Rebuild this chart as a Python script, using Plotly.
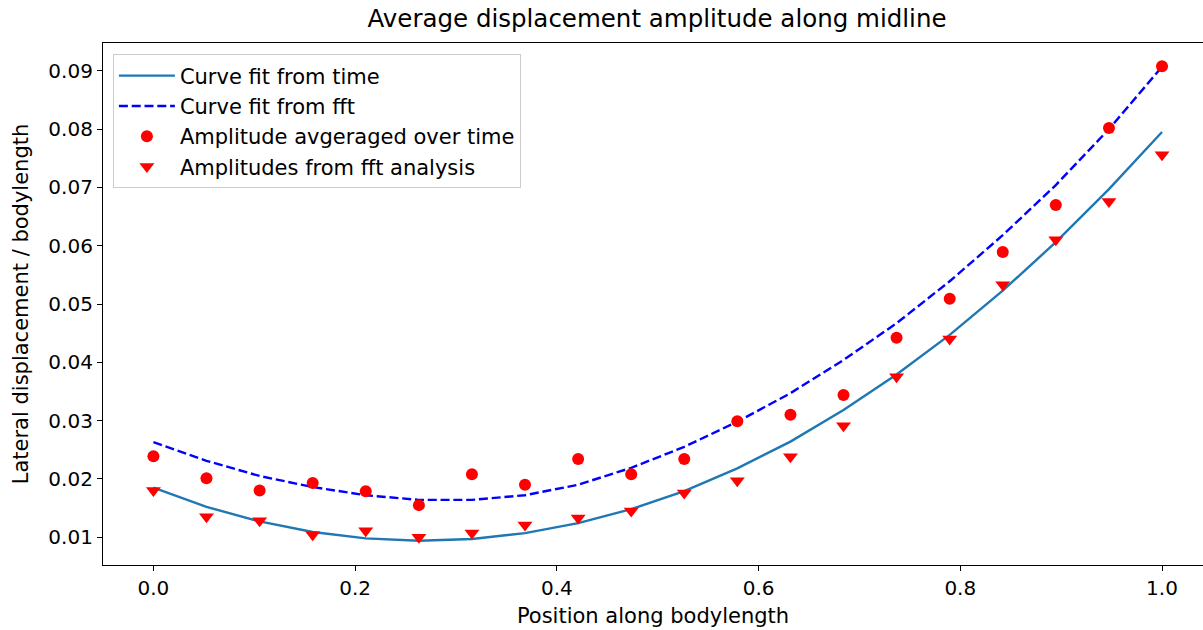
import plotly.graph_objects as go

# Sample positions along the body (20 equally spaced stations, 0 → 1)
position = [0.0, 0.0526, 0.1053, 0.1579, 0.2105, 0.2632, 0.3158, 0.3684, 0.4211, 0.4737,
            0.5263, 0.5789, 0.6316, 0.6842, 0.7368, 0.7895, 0.8421, 0.8947, 0.9474, 1.0]

# Amplitude averaged over time (circles)
amp_time = [0.0239, 0.0201, 0.0180, 0.0193, 0.0179, 0.0155, 0.0208, 0.0190, 0.0234, 0.0208,
            0.0234, 0.0299, 0.0310, 0.0344, 0.0442, 0.0509, 0.0589, 0.0670, 0.0802, 0.0908]

# Amplitudes from fft analysis (triangles)
amp_fft = [0.0180, 0.0135, 0.0128, 0.0104, 0.0111, 0.0100, 0.0107, 0.0121, 0.0133, 0.0145,
           0.0176, 0.0197, 0.0238, 0.0291, 0.0375, 0.0440, 0.0533, 0.0610, 0.0676, 0.0756]

# Fitted curves evaluated at the same stations
fit_time = [0.0185, 0.0152, 0.0127, 0.0109, 0.0098, 0.0094, 0.0097, 0.0107, 0.0124, 0.0148,
            0.0179, 0.0218, 0.0264, 0.0318, 0.0379, 0.0447, 0.0523, 0.0606, 0.0697, 0.0795]
fit_fft = [0.0263, 0.0231, 0.0205, 0.0186, 0.0172, 0.0164, 0.0164, 0.0172, 0.0190, 0.0219,
           0.0255, 0.0298, 0.0347, 0.0404, 0.0467, 0.0539, 0.0618, 0.0704, 0.0800, 0.0907]

y_ticks = [0.01, 0.02, 0.03, 0.04, 0.05, 0.06, 0.07, 0.08, 0.09]
x_ticks = [0.0, 0.2, 0.4, 0.6, 0.8, 1.0]

FONT = "DejaVu Sans"
TXT = 21
TICK = 20

fig = go.Figure()
fig.add_trace(go.Scatter(x=position, y=fit_time, mode="lines", name="Curve fit from time",
                         legendgroup="a",
                         line=dict(color="#1f77b4", width=2.4)))
fig.add_trace(go.Scatter(x=position, y=fit_fft, mode="lines", name="Curve fit from fft",
                         legendgroup="b",
                         line=dict(color="#0000ff", width=2.4, dash="9px,3.8px")))
fig.add_trace(go.Scatter(x=position, y=amp_time, mode="markers", name="Amplitude avgeraged over time",
                         legendgroup="c",
                         marker=dict(symbol="circle", color="#ff0000", size=12, line=dict(width=0))))
fig.add_trace(go.Scatter(x=position, y=amp_fft, mode="markers", name="Amplitudes from fft analysis",
                         legendgroup="d",
                         marker=dict(symbol="triangle-down", color="#ff0000", size=13, line=dict(width=0))))

fig.update_layout(
    width=1203, height=630,
    margin=dict(l=103, r=0, t=43, b=65),
    paper_bgcolor="white", plot_bgcolor="white",
    font=dict(family=FONT, size=TXT, color="black"),
    title=dict(text="Average displacement amplitude along midline",
               x=657 / 1203, xanchor="center", xref="container",
               y=1 - 18 / 630, yanchor="middle", yref="container",
               font=dict(family=FONT, size=24.5, color="black")),
    showlegend=True,
    legend=dict(x=0.009, y=0.978, xanchor="left", yanchor="top",
                bgcolor="rgba(255,255,255,0.8)", bordercolor="#cccccc", borderwidth=1,
                font=dict(family=FONT, size=TXT, color="black"),
                tracegroupgap=0, itemwidth=56),
)

fig.update_xaxes(range=[-0.05, (1203 - 153) / 1009], tickvals=x_ticks,
                 ticktext=[f"{v:.1f}" for v in x_ticks],
                 showgrid=False, zeroline=False, showline=True, linecolor="black", linewidth=1.2,
                 mirror=True, ticks="outside", ticklen=5, tickwidth=1.2, tickcolor="black",
                 tickfont=dict(family=FONT, size=TICK, color="black"),
                 title=dict(text="Position along bodylength", standoff=9,
                            font=dict(family=FONT, size=TXT, color="black")))
fig.update_yaxes(range=[0.00523, 0.09477], tickvals=y_ticks,
                 ticktext=[f"{v:.2f}" for v in y_ticks],
                 showgrid=False, zeroline=False, showline=True, linecolor="black", linewidth=1.2,
                 mirror=False, ticks="outside", ticklen=5, tickwidth=1.2, tickcolor="black",
                 tickfont=dict(family=FONT, size=TICK, color="black"),
                 title=dict(text="Lateral displacement / bodylength", standoff=14,
                            font=dict(family=FONT, size=TXT, color="black")))

fig.write_html("out.html")
